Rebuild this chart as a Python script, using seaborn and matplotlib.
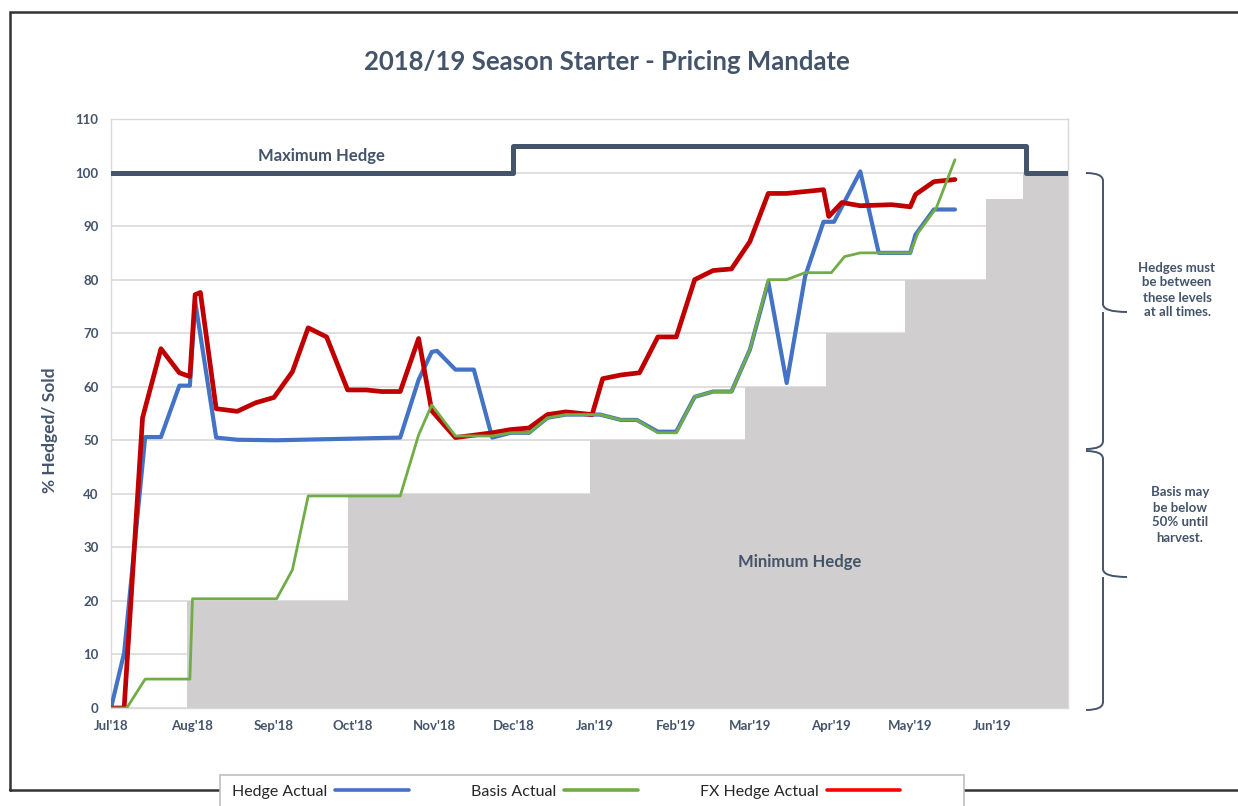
import numpy as np
import pandas as pd
import seaborn as sns
import matplotlib.pyplot as plt
import matplotlib.dates as mdates
from matplotlib.path import Path
from matplotlib.patches import PathPatch, Rectangle
from matplotlib.lines import Line2D

# ---- data ----
hedge_dates = ["2018-07-01", "2018-07-06", "2018-07-14", "2018-07-20", "2018-07-27", "2018-07-31",
               "2018-08-02", "2018-08-10", "2018-08-18", "2018-09-02", "2018-10-19", "2018-10-26",
               "2018-10-31", "2018-11-02", "2018-11-09", "2018-11-16", "2018-11-23", "2018-11-30",
               "2018-12-07", "2018-12-14", "2018-12-21", "2019-01-03", "2019-01-11", "2019-01-17",
               "2019-01-25", "2019-02-01", "2019-02-08", "2019-02-15", "2019-02-22", "2019-03-01",
               "2019-03-08", "2019-03-15", "2019-03-22", "2019-03-29", "2019-04-02", "2019-04-12",
               "2019-04-19", "2019-05-01", "2019-05-03", "2019-05-10", "2019-05-18"]
hedge_vals = [0, 10.3, 50.6, 50.6, 60.2, 60.2, 76, 50.5, 50.1, 50, 50.5, 61.3,
              66.5, 66.7, 63.2, 63.2, 50.5, 51.4, 51.4, 54.2, 54.8, 54.8, 53.8, 53.8,
              51.6, 51.6, 58.1, 59.1, 59.1, 66.9, 79.6, 60.7, 80.6, 90.8, 90.8, 100.2,
              85, 85, 88.4, 93.1, 93.1]

basis_dates = ["2018-07-01", "2018-07-07", "2018-07-14", "2018-07-31", "2018-08-01", "2018-09-02",
               "2018-09-08", "2018-09-14", "2018-10-19", "2018-10-26", "2018-10-31", "2018-11-09",
               "2018-11-23", "2018-11-30", "2018-12-07", "2018-12-14", "2018-12-21", "2019-01-03",
               "2019-01-11", "2019-01-17", "2019-01-25", "2019-02-01", "2019-02-08", "2019-02-15",
               "2019-02-22", "2019-03-01", "2019-03-08", "2019-03-15", "2019-03-22", "2019-04-01",
               "2019-04-06", "2019-04-12", "2019-05-01", "2019-05-04", "2019-05-11", "2019-05-18"]
basis_vals = [0, 0, 5.4, 5.4, 20.4, 20.4, 25.8, 39.6, 39.6, 51, 56.6, 50.8,
              50.8, 51.4, 51.4, 54.2, 54.8, 54.8, 53.8, 53.8, 51.4, 51.4, 58.1, 59.1,
              59.1, 66.9, 80, 80, 81.3, 81.3, 84.3, 85, 85, 88.8, 93.5, 102.4]

fx_dates = ["2018-07-01", "2018-07-06", "2018-07-13", "2018-07-20", "2018-07-27", "2018-07-31",
            "2018-08-02", "2018-08-04", "2018-08-10", "2018-08-18", "2018-08-25", "2018-09-01",
            "2018-09-08", "2018-09-14", "2018-09-21", "2018-09-29", "2018-10-06", "2018-10-12",
            "2018-10-19", "2018-10-26", "2018-10-31", "2018-11-09", "2018-11-23", "2018-11-30",
            "2018-12-07", "2018-12-14", "2018-12-21", "2018-12-31", "2019-01-04", "2019-01-11",
            "2019-01-18", "2019-01-25", "2019-02-01", "2019-02-08", "2019-02-15", "2019-02-22",
            "2019-03-01", "2019-03-08", "2019-03-15", "2019-03-29", "2019-03-31", "2019-04-05",
            "2019-04-12", "2019-04-24", "2019-05-01", "2019-05-03", "2019-05-10", "2019-05-18"]
fx_vals = [0, 0, 54.2, 67.1, 62.6, 61.9, 77.2, 77.6, 55.9, 55.4, 57, 58,
           62.8, 71, 69.3, 59.4, 59.4, 59.1, 59.1, 69, 55.5, 50.5, 51.4, 52,
           52.3, 54.8, 55.3, 54.8, 61.5, 62.2, 62.6, 69.3, 69.3, 80, 81.7, 82,
           87.1, 96.1, 96.1, 96.8, 91.8, 94.4, 93.8, 94, 93.6, 95.9, 98.3, 98.7]

min_dates = ["2018-07-01", "2018-07-30", "2018-09-29", "2018-12-30", "2019-02-27",
             "2019-03-30", "2019-04-29", "2019-05-30", "2019-06-13", "2019-06-30"]
min_vals = [0, 20, 40, 50, 60, 70, 80, 95, 100, 100]

max_dates = ["2018-07-01", "2018-12-01", "2019-06-14", "2019-06-30"]
max_vals = [100, 105, 100, 100]

series_names = ["Hedge Actual", "Basis Actual", "FX Hedge Actual"]

# ---- style ----
sns.set_theme(style="white")
plt.rcParams['font.family'] = ['Lato', 'DejaVu Sans']
slate = "#44546A"
c_blue, c_green, c_red = "#4472C4", "#70AD47", "#C00000"

W, H = 1238, 806
fig = plt.figure(figsize=(W / 100, H / 100), dpi=100)

# background layer for frame, braces and legend box (pixel coords)
deco = fig.add_axes([0, 0, 1, 1], zorder=-1)
deco.set_xlim(0, W)
deco.set_ylim(H, 0)
deco.axis("off")

ax = fig.add_axes([111 / W, 1 - 708 / H, (1068 - 111) / W, (708 - 119) / H])

# minimum hedge (grey area) and maximum hedge (dark step line)
ax.fill_between(pd.to_datetime(min_dates), min_vals, step="post", color="#D0CECE", lw=0, zorder=1)
sns.lineplot(x=pd.to_datetime(max_dates), y=max_vals, drawstyle="steps-post",
             color=slate, lw=3.6, ax=ax, zorder=3)

sns.lineplot(x=pd.to_datetime(hedge_dates), y=hedge_vals, color=c_blue, lw=3.0, ax=ax, zorder=4)
sns.lineplot(x=pd.to_datetime(basis_dates), y=basis_vals, color=c_green, lw=2.0, ax=ax, zorder=5)
sns.lineplot(x=pd.to_datetime(fx_dates), y=fx_vals, color=c_red, lw=3.4, ax=ax, zorder=4.5)

ax.set_xlim(pd.Timestamp("2018-07-01"), pd.Timestamp("2019-06-30"))
ax.set_ylim(0, 110)
ax.set_yticks(np.arange(0, 111, 10))
ax.xaxis.set_major_locator(mdates.MonthLocator())
ax.xaxis.set_major_formatter(mdates.DateFormatter("%b'%y"))
ax.grid(axis="y", color="#D9D9D9", lw=1.2, zorder=0)
ax.set_axisbelow(True)
for s in ax.spines.values():
    s.set_color("#D9D9D9")
    s.set_linewidth(1.0)
ax.tick_params(length=0, labelsize=9.5, colors=slate)
ax.tick_params(axis="y", pad=9)
ax.tick_params(axis="x", pad=9)
for lab in ax.get_xticklabels() + ax.get_yticklabels():
    lab.set_fontweight("bold")
ax.set_xlabel("")
ax.set_ylabel("")

ax.text(pd.Timestamp("2018-09-19"), 103, "Maximum Hedge", ha="center", va="center",
        fontsize=12, fontweight="bold", color=slate)
ax.text(pd.Timestamp("2019-03-20"), 27.2, "Minimum Hedge", ha="center", va="center",
        fontsize=12, fontweight="bold", color=slate)

# titles
fig.text(607 / W, 1 - 62 / H, "2018/19 Season Starter - Pricing Mandate", ha="center",
         va="center", fontsize=18.5, fontweight="bold", color=slate)
fig.text(50 / W, 1 - 430 / H, "% Hedged/ Sold", rotation=90, ha="center", va="center",
         fontsize=12.5, fontweight="bold", color=slate)

# outer frame
deco.plot([10, 10, W + 5, W + 5, 10], [790, 12, 12, 790, 790], color="#333333", lw=1.8,
          solid_joinstyle="miter", zorder=1)


def brace(y1, y2, ym, x0=1103, xl=1086, xt=1127, r=8):
    verts = [(xl, y1), (x0, y1), (x0, y1 + r),
             (x0, ym - r), (x0, ym), (xt, ym),
             (x0, ym), (x0, ym + r),
             (x0, y2 - r), (x0, y2), (xl, y2)]
    codes = [Path.MOVETO, Path.CURVE3, Path.CURVE3,
             Path.LINETO, Path.CURVE3, Path.LINETO,
             Path.MOVETO, Path.CURVE3,
             Path.LINETO, Path.CURVE3, Path.CURVE3]
    deco.add_patch(PathPatch(Path(verts, codes), fc="none", ec=slate, lw=1.4))


brace(173, 449, 312)
brace(451, 710, 577)

deco.text(1177, 290, "Hedges must\nbe between\nthese levels\nat all times.", ha="center",
          va="center", fontsize=9.5, fontweight="bold", color=slate, linespacing=1.3)
deco.text(1180, 515, "Basis may\nbe below\n50% until\nharvest.", ha="center",
          va="center", fontsize=9.5, fontweight="bold", color=slate, linespacing=1.3)

# legend box (runs off the bottom edge, like the reference)
deco.add_patch(Rectangle((220, 775), 964 - 220, 60, fc="white", ec="#BFBFBF", lw=1.2, zorder=2))

# legend: label first, line after
handles = [Line2D([], [], color=c_blue, lw=2.6),
           Line2D([], [], color=c_green, lw=2.6),
           Line2D([], [], color="#FF0000", lw=2.6)]
fig.legend(handles, series_names, ncol=3, loc="center left",
           bbox_to_anchor=(232 / W, 1 - 792 / H), markerfirst=False, frameon=False,
           fontsize=11.5, handlelength=4.6, handletextpad=0.5, columnspacing=3.9,
           borderpad=0, borderaxespad=0)

fig.savefig("out.png", dpi=100)
